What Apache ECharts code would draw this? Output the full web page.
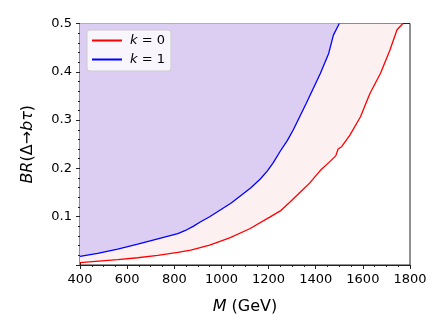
<!DOCTYPE html>
<html><head><meta charset="utf-8">
<script src="https://cdn.jsdelivr.net/npm/echarts@6/dist/echarts.min.js"></script>
<style>html,body{margin:0;padding:0;background:#fff}#c{width:448px;height:336px}</style>
</head><body><div id="c"></div>
<script>
var massK1 = [400, 475, 560, 645, 730, 815, 845, 880, 910, 950, 995, 1040, 1080, 1125, 1165, 1195, 1220, 1250, 1280, 1305, 1360, 1420, 1455, 1475, 1500];
var brK1   = [0.018, 0.024, 0.033, 0.043, 0.054, 0.065, 0.071, 0.080, 0.089, 0.100, 0.114, 0.128, 0.143, 0.160, 0.178, 0.195, 0.212, 0.236, 0.258, 0.280, 0.335, 0.397, 0.438, 0.476, 0.5];
var massK0 = [400, 480, 560, 645, 730, 815, 870, 950, 1035, 1120, 1205, 1250, 1290, 1335, 1375, 1420, 1460, 1485, 1495, 1510, 1545, 1590, 1630, 1675, 1715, 1745, 1770];
var brK0   = [0.005, 0.008, 0.011, 0.015, 0.020, 0.026, 0.031, 0.041, 0.056, 0.075, 0.099, 0.112, 0.130, 0.151, 0.170, 0.196, 0.214, 0.226, 0.240, 0.245, 0.269, 0.307, 0.355, 0.397, 0.445, 0.487, 0.5];
var seriesNames = ['k=0', 'k=1'];
var xTicks = [400, 600, 800, 1000, 1200, 1400, 1600, 1800];
var yTicks = [0.1, 0.2, 0.3, 0.4, 0.5];

function pairs(xs, ys) { return xs.map(function (x, i) { return [x, ys[i]]; }); }

var chart = echarts.init(document.getElementById('c'), null, {renderer: 'canvas'});
var font = 'DejaVu Sans';
chart.setOption({
  animation: false,
  grid: {left: 80, right: 38, top: 23.5, bottom: 71, show: true, borderColor: '#222', borderWidth: 1, backgroundColor: 'transparent'},
  xAxis: {
    type: 'value', min: 400, max: 1800, interval: 200,
    name: '{i|M} (GeV)', nameLocation: 'middle', nameGap: 34,
    nameTextStyle: {fontFamily: font, fontSize: 16, color: '#000', rich: {i: {fontStyle: 'italic', fontFamily: font, fontSize: 16, color: '#000'}}},
    axisLine: {onZero: false, lineStyle: {color: '#222'}},
    axisTick: {show: true, inside: false, length: 4, lineStyle: {color: '#222'}},
    minorTick: {show: true, splitNumber: 4, length: 2, lineStyle: {color: '#222'}},
    splitLine: {show: false},
    axisLabel: {fontFamily: font, fontSize: 13, color: '#000', margin: 8,
      formatter: function (v) { return xTicks.indexOf(v) >= 0 ? String(v) : ''; }}
  },
  yAxis: {
    type: 'value', min: 0, max: 0.5, interval: 0.1,
    name: '{i|BR}(Δ→{i|bτ})', nameLocation: 'middle', nameGap: 44,
    nameTextStyle: {fontFamily: font, fontSize: 16, color: '#000', rich: {i: {fontStyle: 'italic', fontFamily: font, fontSize: 16, color: '#000'}}},
    axisLine: {onZero: false, lineStyle: {color: '#222'}},
    axisTick: {show: true, inside: false, length: 4, lineStyle: {color: '#222'}},
    minorTick: {show: true, splitNumber: 5, length: 2, lineStyle: {color: '#222'}},
    splitLine: {show: false},
    axisLabel: {fontFamily: font, fontSize: 13, color: '#000', margin: 8,
      formatter: function (v) { var s = Math.round(v * 10) / 10; return yTicks.indexOf(s) >= 0 ? s.toFixed(1) : ''; }}
  },
  legend: {
    orient: 'vertical', left: 87, top: 30, data: seriesNames,
    itemWidth: 30, itemHeight: 14, itemGap: 6, padding: [4, 6, 5, 4],
    itemStyle: {opacity: 0, color: 'transparent', borderWidth: 0},
    backgroundColor: 'rgba(255,255,255,0.8)', borderColor: '#cccccc', borderWidth: 1, borderRadius: 3,
    formatter: function (n) { return '{i|k} = ' + n.split('=')[1]; },
    textStyle: {fontFamily: font, fontSize: 13, color: '#000', padding: [0, 0, 0, 3], rich: {i: {fontStyle: 'italic', fontFamily: font, fontSize: 13, color: '#000'}}}
  },
  series: [
    {name: seriesNames[0], type: 'line', data: pairs(massK0, brK0), symbol: 'none', smooth: false, z: 2,
      lineStyle: {color: '#ff0000', width: 1.3}, itemStyle: {color: '#ff0000'},
      areaStyle: {origin: 'end', color: '#fdf0f0', opacity: 1}},
    {name: seriesNames[1], type: 'line', data: pairs(massK1, brK1), symbol: 'none', smooth: false, z: 3,
      lineStyle: {color: '#0000ff', width: 1.3}, itemStyle: {color: '#0000ff'},
      areaStyle: {origin: 'end', color: '#dccef2', opacity: 1}}
  ]
});
</script></body></html>
